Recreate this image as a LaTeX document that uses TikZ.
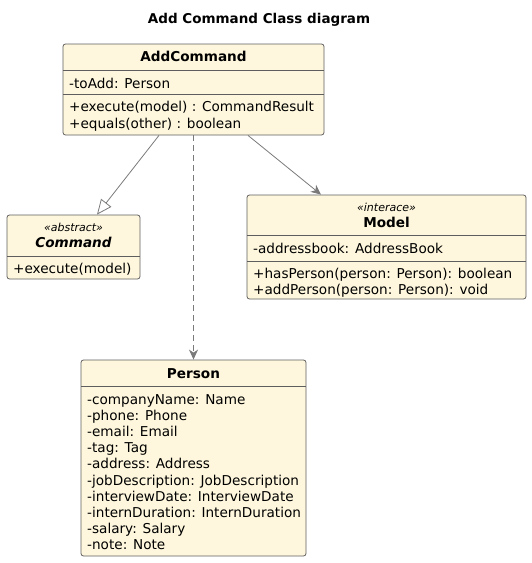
\documentclass[tikz,border=0pt]{standalone}
\usepackage{fontspec}
\setmainfont{DejaVu Sans}
\usepackage{xcolor}
\usetikzlibrary{arrows.meta, positioning}
\definecolor{classfill}{HTML}{FEF7DD}
\definecolor{classline}{HTML}{5E5E5E}
\definecolor{linkline}{HTML}{7A7A7A}
\tikzset{
  classbox/.style={draw=classline,fill=classfill,rounded corners=2.5pt,inner sep=0pt,line width=0.8pt},
  member/.style={anchor=west,inner sep=0pt,text height=12pt,text depth=2pt,font=\fontsize{13.6}{16}\selectfont},
  classname/.style={inner sep=0pt,text height=12pt,text depth=2pt,font=\fontsize{13.6}{16}\selectfont\bfseries},
  stereo/.style={inner sep=0pt,text height=10pt,text depth=2pt,font=\fontsize{11}{13}\selectfont\itshape},
  link/.style={draw=linkline,line width=0.8pt}
}
\begin{document}
\begin{tikzpicture}[x=1pt,y=-1pt]
\useasboundingbox (0,0) rectangle (532,563);
\node[inner sep=0pt,text height=12pt,text depth=2pt,font=\fontsize{13.5}{16}\selectfont\bfseries] (title) at (259,18) {Add Command Class diagram};
% AddCommand
\node[classbox,minimum width=261pt,minimum height=91pt] (add) at (193.5,89.5) {};
\node[classname] (addname) at (193.5,56) {AddCommand};
\draw[classline,line width=0.8pt] (63,70) -- (324,70);
\node[member] (addattr) at (69,83) {-toAdd: Person};
\draw[classline,line width=0.8pt] (63,94) -- (324,94);
\node[member] (addexec) at (69,106) {+execute(model) : CommandResult};
\node[member] (addeq) at (69,123) {+equals(other) : boolean};
% Command
\node[classbox,minimum width=133pt,minimum height=64pt] (cmd) at (73.5,247) {};
\node[stereo] (cmdstereo) at (73.5,227) {«abstract»};
\node[classname,font=\fontsize{13.6}{16}\selectfont\bfseries\itshape] (cmdname) at (73.5,242) {Command};
\draw[classline,line width=0.8pt] (7,256) -- (140,256);
\node[member] (cmdexec) at (13,268) {+execute(model)};
% Model
\node[classbox,minimum width=279pt,minimum height=104pt] (model) at (386.5,247) {};
\node[stereo] (modelstereo) at (386.5,207) {«interace»};
\node[classname] (modelname) at (386.5,222) {Model};
\draw[classline,line width=0.8pt] (247,235) -- (526,235);
\node[member] (modelattr) at (253,248) {-addressbook: AddressBook};
\draw[classline,line width=0.8pt] (247,261) -- (526,261);
\node[member] (modelhas) at (253,273) {+hasPerson(person: Person): boolean};
\node[member] (modeladd) at (253,289) {+addPerson(person: Person): void};
% Person
\node[classbox,minimum width=225pt,minimum height=196pt] (person) at (193.5,458) {};
\node[classname] (personname) at (193.5,373) {Person};
\draw[classline,line width=0.8pt] (81,386) -- (306,386);
\foreach \txt [count=\i from 0] in {-companyName: Name,-phone: Phone,-email: Email,-tag: Tag,-address: Address,-jobDescription: JobDescription,-interviewDate: InterviewDate,-internDuration: InternDuration,-salary: Salary,-note: Note}
  \node[member] (pattr\i) at (87,399+16.2*\i) {\txt};
% links
\draw[link,-{Triangle[open,length=15pt,width=13pt]}] ([xshift=-34.5pt]add.south) -- ([xshift=23.5pt]cmd.north);
\draw[link,dash pattern=on 6pt off 4pt,-{Stealth[length=10pt,width=9pt,inset=3pt]}] (add.south) -- (person.north);
\draw[link,-{Stealth[length=10pt,width=9pt,inset=3pt]}] ([xshift=54.5pt]add.south) -- ([xshift=-65.5pt]model.north);
\end{tikzpicture}
\end{document}
